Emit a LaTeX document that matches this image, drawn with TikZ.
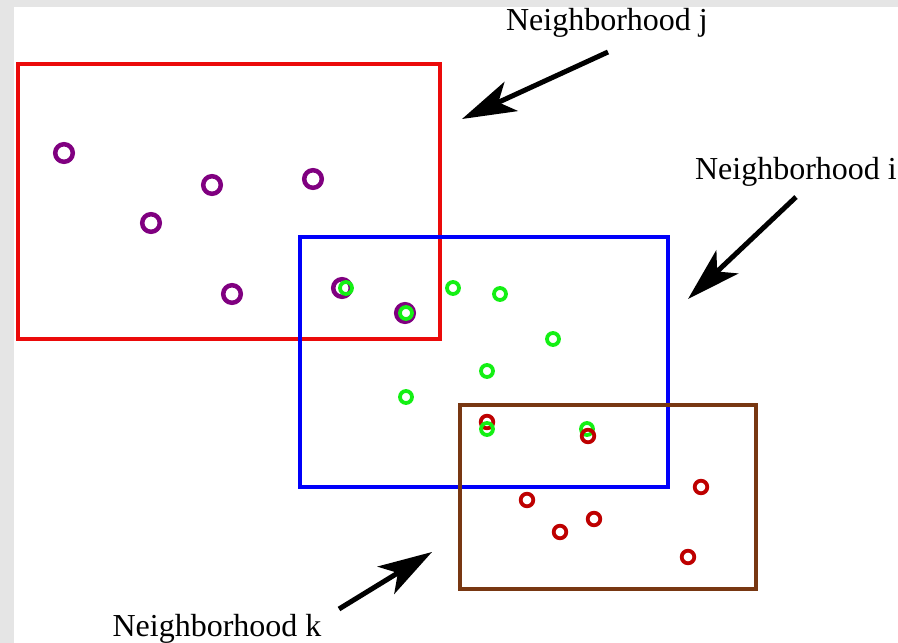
\documentclass[tikz,border=0pt]{standalone}
\usepackage{fontspec}
\setmainfont{Liberation Serif}
\usetikzlibrary{arrows.meta}
\definecolor{framegray}{RGB}{229,229,229}
\definecolor{hoodred}{RGB}{235,10,10}
\definecolor{hoodblue}{RGB}{0,0,250}
\definecolor{hoodbrown}{RGB}{120,55,18}
\definecolor{ptpurple}{RGB}{128,0,128}
\definecolor{ptgreen}{RGB}{20,240,20}
\definecolor{ptred}{RGB}{190,0,0}
\tikzset{
  hood/.style={line width=4pt},
  label/.style={font=\fontsize{32}{36}\selectfont, inner sep=0pt, anchor=base},
  pointer/.style={-{Stealth[length=54pt, width=32pt, inset=14pt]}, line width=5pt},
  jpt/.style={draw=ptpurple, line width=4.5pt},
  ipt/.style={draw=ptgreen, line width=3.8pt},
  kpt/.style={draw=ptred, line width=3.8pt},
}
\begin{document}
\begin{tikzpicture}[x=1pt, y=-1pt]
% page frame
\fill[framegray] (0,0) rectangle (898,643);
\fill[white] (14,7) rectangle (898,643);
\useasboundingbox (0,0) rectangle (898,643);

% neighborhoods
\draw[hood, hoodred] (18,64) rectangle (440,339);
\draw[hood, hoodblue] (300,237) rectangle (668,487);
\draw[hood, hoodbrown, line width=3.5pt] (460,405) rectangle (756,589);

% points of each neighborhood
\foreach \x/\y in {64/153,212/185,313/179,151/223,232/294,342/288,405/313}
  \draw[jpt] (\x,\y) circle (8.8);
\draw[kpt] (487,422) circle (6.3);
\foreach \x/\y in {346/288,406/313,453/288,500/294,553/339,487/371,406/397,487/429,587/429}
  \draw[ipt] (\x,\y) circle (6);
\foreach \x/\y in {588/436,527/500,560/532,594/519,701/487,688/557}
  \draw[kpt] (\x,\y) circle (6.3);

% labels
\node[label] (labj) at (607,30) {Neighborhood j};
\node[label] (labi) at (796,179) {Neighborhood i};
\node[label] (labk) at (217,636) {Neighborhood k};

% pointers
\coordinate (jtail) at (608,52);
\coordinate (jtip) at (462,119);
\coordinate (itail) at (796,197);
\coordinate (itip) at (688,299);
\coordinate (ktail) at (339,609);
\coordinate (ktip) at (432,552);
\draw[pointer] (jtail) -- (jtip);
\draw[pointer] (itail) -- (itip);
\draw[pointer] (ktail) -- (ktip);
\end{tikzpicture}
\end{document}
